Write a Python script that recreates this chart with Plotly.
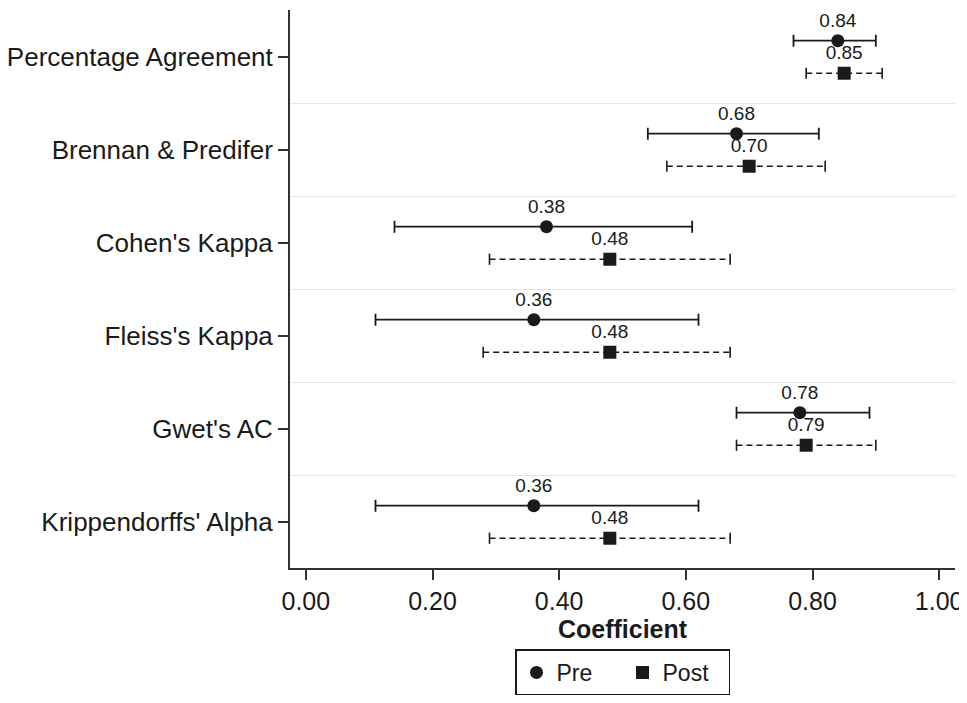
import plotly.graph_objects as go

categories = ["Percentage Agreement", "Brennan & Predifer", "Cohen's Kappa",
              "Fleiss's Kappa", "Gwet's AC", "Krippendorffs' Alpha"]
pre = [0.84, 0.68, 0.38, 0.36, 0.78, 0.36]
pre_lo = [0.77, 0.54, 0.14, 0.11, 0.68, 0.11]
pre_hi = [0.90, 0.81, 0.61, 0.62, 0.89, 0.62]
post = [0.85, 0.70, 0.48, 0.48, 0.79, 0.48]
post_lo = [0.79, 0.57, 0.29, 0.28, 0.68, 0.29]
post_hi = [0.91, 0.82, 0.67, 0.67, 0.90, 0.67]
x_ticks = [0.0, 0.2, 0.4, 0.6, 0.8, 1.0]

n = len(categories)
centers = [i + 0.5 for i in range(n)]
y_pre = [c - 0.17 for c in centers]
y_post = [c + 0.18 for c in centers]

ink = "#1a1a1a"
font_family = "Liberation Sans, Arial, Helvetica, sans-serif"

fig = go.Figure()

# Post CI dashed lines
lx, ly = [], []
for lo, hi, y in zip(post_lo, post_hi, y_post):
    lx += [lo, hi, None]
    ly += [y, y, None]
fig.add_trace(go.Scatter(x=lx, y=ly, mode="lines",
                         line=dict(color=ink, width=1.6, dash="6px,4px"),
                         showlegend=False, hoverinfo="skip"))
# Post CI caps
fig.add_trace(go.Scatter(x=post_lo + post_hi, y=y_post + y_post, mode="markers",
                         marker=dict(symbol="line-ns", size=8,
                                     line=dict(color=ink, width=1.6)),
                         showlegend=False, hoverinfo="skip"))

# Pre points with solid CI
fig.add_trace(go.Scatter(
    x=pre, y=y_pre, mode="markers", name="Pre",
    marker=dict(symbol="circle", size=13, color=ink),
    error_x=dict(type="data", symmetric=False,
                 array=[h - v for h, v in zip(pre_hi, pre)],
                 arrayminus=[v - l for v, l in zip(pre, pre_lo)],
                 color=ink, thickness=1.8, width=6),
))
# Post points
fig.add_trace(go.Scatter(
    x=post, y=y_post, mode="markers", name="Post",
    marker=dict(symbol="square", size=13, color=ink),
))

# Value labels
fig.add_trace(go.Scatter(x=pre, y=y_pre, mode="markers+text",
                         text=[f"{v:.2f}" for v in pre], textposition="top center",
                         marker=dict(size=13, color="rgba(0,0,0,0)"),
                         textfont=dict(size=19, color=ink, family=font_family),
                         showlegend=False, hoverinfo="skip"))
fig.add_trace(go.Scatter(x=post, y=y_post, mode="markers+text",
                         text=[f"{v:.2f}" for v in post], textposition="top center",
                         marker=dict(size=13, color="rgba(0,0,0,0)"),
                         textfont=dict(size=19, color=ink, family=font_family),
                         showlegend=False, hoverinfo="skip"))

fig.update_layout(
    width=959, height=687,
    margin=dict(l=282, r=12, t=2, b=127, autoexpand=False),
    plot_bgcolor="white", paper_bgcolor="white",
    font=dict(family=font_family, color=ink, size=24),
    legend=dict(orientation="h", x=0.5, xanchor="center", y=-0.146, yanchor="top",
                bordercolor=ink, borderwidth=1.5, font=dict(size=23),
                itemwidth=30, entrywidth=61, tracegroupgap=0),
    xaxis=dict(range=[-0.025, 1.025], tickvals=x_ticks,
               ticktext=[f"{t:.2f}" for t in x_ticks],
               ticks="outside", ticklen=10, tickwidth=1.8, tickcolor="#333",
               showline=True, linecolor="#333", linewidth=2,
               showgrid=False, zeroline=False,
               tickfont=dict(size=25),
               title=dict(text="<b>Coefficient</b>", font=dict(size=25), standoff=4)),
    yaxis=dict(range=[n, 0], tickvals=centers, ticktext=categories,
               ticks="outside", ticklen=10, tickwidth=1.8, tickcolor="#333",
               showline=True, linecolor="#333", linewidth=2,
               showgrid=False, zeroline=False,
               tickfont=dict(size=26),
               minor=dict(tickvals=list(range(1, n)), showgrid=True,
                          gridcolor="#e6e6e6", gridwidth=1, ticks="")),
)

fig.write_html("out.html")
